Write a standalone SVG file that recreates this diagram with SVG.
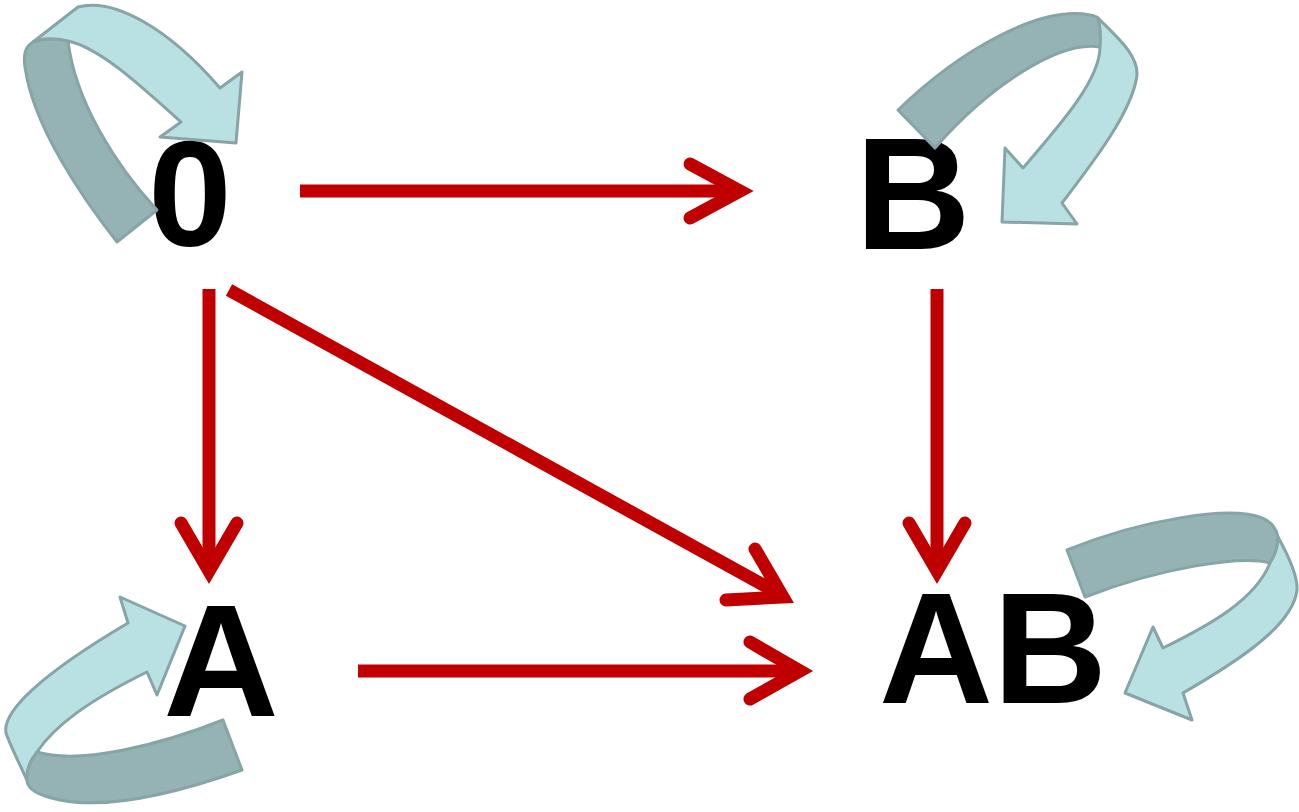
<svg xmlns="http://www.w3.org/2000/svg" width="1299" height="812" viewBox="0 0 1299 812">
<style>
.lbl{font-family:"Liberation Sans",Arial,sans-serif;font-weight:bold;fill:#000;text-anchor:middle}
.edge{stroke:#C00000;stroke-width:13;fill:none}
.head{stroke:#C00000;stroke-width:13;fill:none;stroke-linecap:round;stroke-linejoin:miter;stroke-miterlimit:10}
.back{fill:#95B3B5;stroke:#87A4A7;stroke-width:3;stroke-linejoin:round}
.front{fill:#B9E0E3;stroke:#87A4A7;stroke-width:3;stroke-linejoin:round}
</style>
<rect width="1299" height="812" fill="#fff"/>
<g id="connectors">
<path class="edge" d="M300,191 H736"/>
<path class="head" d="M690,164 L740,191 L690,218"/>
<path class="edge" d="M209,289 V566"/>
<path class="head" d="M181,523 L209,571 L237,523"/>
<path class="edge" d="M229,290 L776,592"/>
<path class="head" d="M755,549 L783,597 L726,600"/>
<path class="edge" d="M937,289 V566"/>
<path class="head" d="M909,523 L937,571 L965,523"/>
<path class="edge" d="M358,671 H796"/>
<path class="head" d="M750,642 L800,671 L750,699"/>
</g>
<g id="node-0">
<text class="lbl" x="190" y="246" font-size="150">0</text>
<path class="back" d="M117,242 C80,195 33,125 25,67 C23,55 26,46 33,42 C45,38 58,38 68,41 C75,100 115,165 157,210 Z"/>
<path class="front" d="M33,42 L78,7 C115,-3 170,30 220,88 L242,72 L236,143 L160,137 L181,122 C140,85 100,48 68,41 C55,38 42,38 33,42 Z"/>
</g>
<g id="node-B">
<text class="lbl" x="913" y="249" font-size="160">B</text>
<path class="back" d="M898,110 C960,50 1040,5 1090,15 Q1096,16 1098,18 C1103,28 1103,40 1100,47 C1060,40 990,85 935,148 Z"/>
<path class="front" d="M1098,18 C1118,38 1138,55 1137,75 C1133,110 1095,160 1062,203 L1077,224 L1002,222 L1005,148 L1023,168 C1060,125 1100,80 1100,47 C1101,35 1100,25 1098,18 Z"/>
</g>
<g id="node-A">
<text class="lbl" x="221" y="716" font-size="160">A</text>
<path class="back" d="M37,752 C80,765 160,745 223,720 L242,770 C180,792 110,810 60,800 C40,796 27,790 27,780 C26,772 29,762 37,752 Z"/>
<path class="front" d="M27,780 C20,765 10,745 6,733 C2,712 40,675 128,623 L120,597 L185,626 L157,695 L147,672 C90,700 55,725 37,752 C29,762 26,772 27,780 Z"/>
</g>
<g id="node-AB">
<text class="lbl" x="993" y="703" font-size="158">AB</text>
<path class="back" d="M1067,550 C1140,520 1230,505 1262,518 C1272,522 1277,530 1278,537 C1278,548 1275,557 1270,563 C1240,555 1160,568 1085,597 Z"/>
<path class="front" d="M1278,537 C1288,555 1298,575 1297,590 C1293,625 1240,660 1183,693 L1192,720 L1125,693 L1153,627 L1163,648 C1210,625 1255,600 1270,563 C1275,555 1278,545 1278,537 Z"/>
</g>
</svg>
